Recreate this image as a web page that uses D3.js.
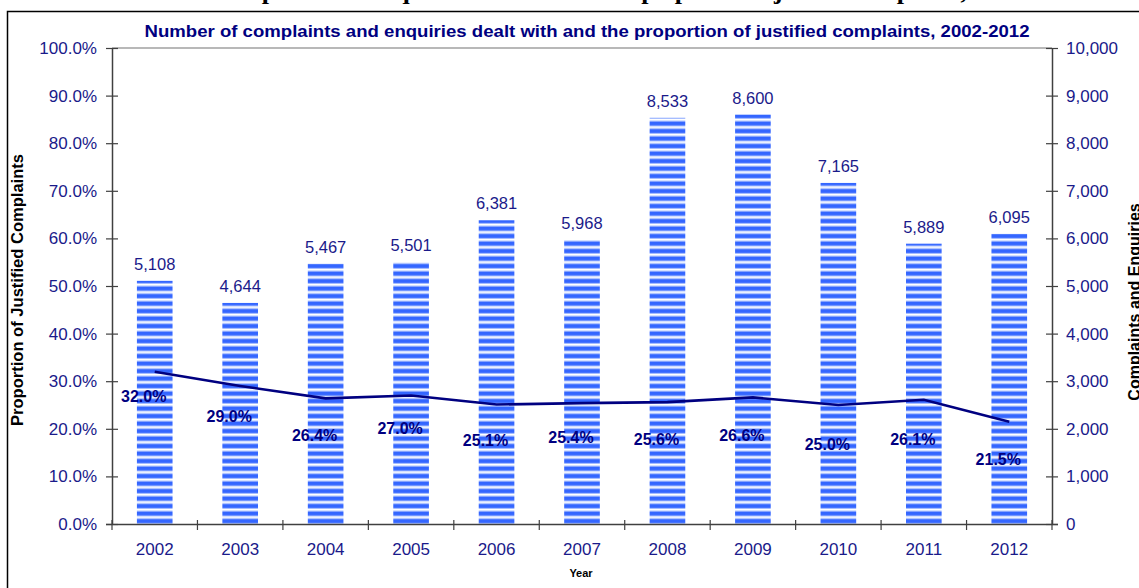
<!DOCTYPE html>
<html>
<head>
<meta charset="utf-8">
<script src="https://cdn.jsdelivr.net/npm/d3@7"></script>
<style>
  html, body { margin: 0; padding: 0; background: #fff; }
  svg { display: block; }
  text { font-family: "Liberation Sans", Arial, sans-serif; }
</style>
</head>
<body>
<svg id="chart" width="1139" height="588"></svg>
<script>
// ---- data ----
const years = ["2002","2003","2004","2005","2006","2007","2008","2009","2010","2011","2012"];
const complaints = [5108, 4644, 5467, 5501, 6381, 5968, 8533, 8600, 7165, 5889, 6095];
const justifiedPct = [0.320, 0.290, 0.264, 0.270, 0.251, 0.254, 0.256, 0.266, 0.250, 0.261, 0.215];
const pctTicks = [0, 0.1, 0.2, 0.3, 0.4, 0.5, 0.6, 0.7, 0.8, 0.9, 1.0];
const countTicks = [0, 1000, 2000, 3000, 4000, 5000, 6000, 7000, 8000, 9000, 10000];

const pageTitle = "Number of complaints and enquiries dealt with and the proportion of justified complaints, 2002-2012";
const chartTitle = "Number of complaints and enquiries dealt with and the proportion of justified complaints, 2002-2012";
const leftTitle = "Proportion of Justified Complaints";
const rightTitle = "Complaints and Enquiries";
const xTitle = "Year";

// manual label placement (vertical offset of each % label below its point, px)
const pctLabelOffset = [24, 30, 37, 33, 35, 34, 37, 38, 39, 39, 37];

// ---- layout ----
const svg = d3.select("#chart");
const L = 112, R = 1052, T = 48, B = 524;
const navy = "#1a1a8a";

const x = d3.scaleBand().domain(years).range([L, R]).paddingInner(0).paddingOuter(0);
const yPct = d3.scaleLinear().domain([0, 1]).range([B, T]);
const yCnt = d3.scaleLinear().domain([0, 10000]).range([B, T]);

// stripe pattern
const defs = svg.append("defs");
const pat = defs.append("pattern").attr("id", "stripes")
  .attr("patternUnits", "userSpaceOnUse")
  .attr("x", 0).attr("y", B).attr("width", 8).attr("height", 7.5);
pat.append("rect").attr("x", 0).attr("y", 0).attr("width", 8).attr("height", 7.5).attr("fill", "#ffffff");
pat.append("rect").attr("x", 0).attr("y", 1.5).attr("width", 8).attr("height", 1).attr("fill", "#a9bfff");
pat.append("rect").attr("x", 0).attr("y", 2.5).attr("width", 8).attr("height", 4).attr("fill", "#3466ff");
pat.append("rect").attr("x", 0).attr("y", 6.5).attr("width", 8).attr("height", 1).attr("fill", "#a9bfff");

// page title (cropped at top, as in the source)
svg.append("text").attr("x", 590).attr("y", -1)
  .attr("text-anchor", "middle")
  .attr("textLength", 960).attr("lengthAdjust", "spacing")
  .style("font-family", "'Liberation Serif', 'Times New Roman', serif")
  .style("font-weight", "bold").style("font-size", "26px").attr("fill", "#000")
  .text(pageTitle);

// frame
svg.append("path").attr("d", `M7.5,588 V11.5 H1139`).attr("fill", "none")
  .attr("stroke", "#000").attr("stroke-width", 1.5);

// chart title
svg.append("text").attr("x", 587).attr("y", 37).attr("text-anchor", "middle")
  .attr("textLength", 885).attr("lengthAdjust", "spacingAndGlyphs")
  .style("font-weight", "bold").style("font-size", "17px").attr("fill", "#000080")
  .text(chartTitle);

// top border of plot area
svg.append("line").attr("x1", L).attr("x2", R).attr("y1", T).attr("y2", T)
  .attr("stroke", "#a0a0a0").attr("stroke-width", 1.5);

// bars
const bw = x.bandwidth() * 0.417;
svg.append("g").selectAll("rect").data(years).join("rect")
  .attr("x", (d) => x(d) + (x.bandwidth() - bw) / 2)
  .attr("width", bw)
  .attr("y", (d, i) => yCnt(complaints[i]))
  .attr("height", (d, i) => B - yCnt(complaints[i]))
  .attr("fill", "url(#stripes)");

// bar labels
svg.append("g").selectAll("text").data(years).join("text")
  .attr("x", (d) => x(d) + x.bandwidth() / 2)
  .attr("y", (d, i) => yCnt(complaints[i]) - 11)
  .attr("text-anchor", "middle")
  .style("font-size", "16.5px").attr("fill", navy)
  .text((d, i) => d3.format(",")(complaints[i]));

// line
const line = d3.line()
  .x((d, i) => x(years[i]) + x.bandwidth() / 2)
  .y((d) => yPct(d));
svg.append("path").datum(justifiedPct).attr("d", line)
  .attr("fill", "none").attr("stroke", "#000080").attr("stroke-width", 2.6);

// percent labels
svg.append("g").selectAll("text").data(justifiedPct).join("text")
  .attr("x", (d, i) => x(years[i]) + x.bandwidth() / 2 - 11)
  .attr("y", (d, i) => yPct(d) + pctLabelOffset[i] + 6)
  .attr("text-anchor", "middle")
  .style("font-size", "16px").style("font-weight", "bold").attr("fill", "#000080")
  .text((d) => d3.format(".1%")(d));

// left axis
const gl = svg.append("g").attr("transform", `translate(${L},0)`)
  .call(d3.axisLeft(yPct).tickValues(pctTicks).tickFormat(d3.format(".1%")).tickSize(6).tickPadding(9));
// right axis
const gr = svg.append("g").attr("transform", `translate(${R},0)`)
  .call(d3.axisRight(yCnt).tickValues(countTicks).tickFormat(d3.format(",")).tickSize(6).tickPadding(8));
[gl, gr].forEach((g) => {
  g.select(".domain").attr("stroke", "#404040").attr("stroke-width", 1.5);
  g.selectAll(".tick line").attr("stroke", "#404040").attr("stroke-width", 1.2);
  g.selectAll(".tick text").style("font-size", "17px").attr("fill", navy)
    .style("font-family", "'Liberation Sans', Arial, sans-serif");
});
gl.selectAll(".tick line").attr("x1", 6);
gr.selectAll(".tick line").attr("x1", -6);
gl.select(".domain").attr("d", `M0.5,${B}V${T}`);
gr.select(".domain").attr("d", `M0.5,${B}V${T}`);

// bottom axis (labels)
const gb = svg.append("g").attr("transform", `translate(0,${B})`)
  .call(d3.axisBottom(x).tickSize(0).tickPadding(19));
gb.select(".domain").attr("d", `M${L - 6},0.5H${R + 6}`).attr("stroke", "#404040").attr("stroke-width", 1.5);
gb.selectAll(".tick text").style("font-size", "17px").attr("fill", navy)
  .style("font-family", "'Liberation Sans', Arial, sans-serif");
// boundary ticks
const bounds = years.map((d) => x(d)).concat([R]);
svg.append("g").selectAll("line").data(bounds).join("line")
  .attr("x1", (d) => d).attr("x2", (d) => d)
  .attr("y1", B - 4).attr("y2", B + 6)
  .attr("stroke", "#404040").attr("stroke-width", 1.2);

// axis titles
svg.append("text").attr("transform", `translate(23,290) rotate(-90)`)
  .attr("text-anchor", "middle").attr("textLength", 272).attr("lengthAdjust", "spacingAndGlyphs")
  .style("font-weight", "bold").style("font-size", "16px")
  .attr("fill", "#000").text(leftTitle);
svg.append("text").attr("transform", `translate(1140,302) rotate(-90)`)
  .attr("text-anchor", "middle").style("font-weight", "bold").style("font-size", "16px")
  .attr("fill", "#000").text(rightTitle);
svg.append("text").attr("x", 581).attr("y", 577).attr("text-anchor", "middle")
  .style("font-weight", "bold").style("font-size", "11px").attr("fill", "#000").text(xTitle);
</script>
</body>
</html>
